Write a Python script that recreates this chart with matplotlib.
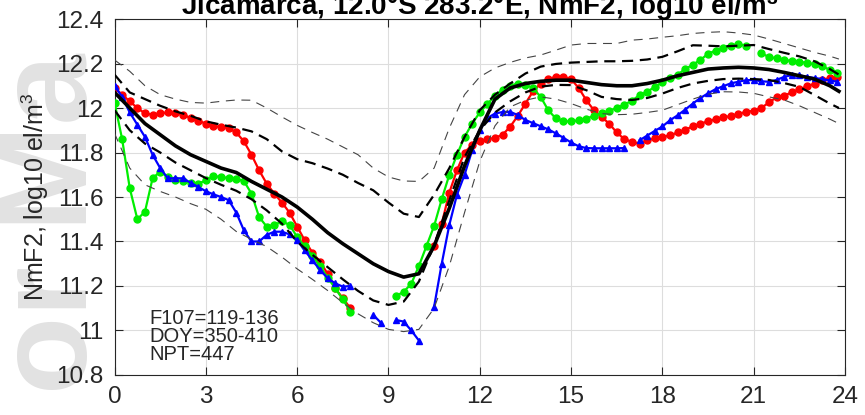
import numpy as np
import matplotlib
matplotlib.use("Agg")
import matplotlib.pyplot as plt
from matplotlib.ticker import FuncFormatter

plt.rcParams['font.family'] = ['Liberation Sans', 'DejaVu Sans']
plt.rcParams['mathtext.default'] = 'regular'

nan = np.nan

# local time grid of the observations (15 min bins)
obs_hours = np.arange(0, 24, 0.25)

red_vals = [
    12.09, 12.06, 12.03, 12.00, 11.976, 11.97, 11.976, 11.98,
    11.976, 11.97, 11.955, 11.943, 11.93, 11.918, 11.915, 11.91,
    11.89, 11.85, 11.79, 11.72, 11.66, 11.615, 11.575, 11.53,
    11.467, 11.405, 11.35, 11.31, 11.255, 11.19, 11.145, 11.10,
    nan, nan, nan, nan, nan, nan, nan, nan,
    nan, nan, 11.38, 11.48, 11.62, 11.72, 11.80, 11.835,
    11.85, 11.86, 11.866, 11.88, 11.916, 11.965, 12.02, 12.075,
    12.11, 12.13, 12.14, 12.14, 12.13, 12.09, 12.035, 11.99,
    11.96, 11.93, 11.89, 11.86, 11.848, 11.84, 11.855, 11.863,
    11.87, 11.877, 11.89, 11.903, 11.917, 11.93, 11.94, 11.95,
    11.958, 11.964, 11.974, 11.982, 11.988, 12.0, 12.025, 12.048,
    12.056, 12.07, 12.084, 12.097, 12.11, 12.125, 12.135, 12.14,
]

green_vals = [
    12.024, 11.86, 11.64, 11.50, 11.534, 11.684, 11.714, 11.69,
    11.675, 11.67, 11.665, 11.66, 11.675, 11.694, 11.69, 11.685,
    11.68, 11.672, 11.615, 11.51, 11.467, 11.475, 11.49, 11.475,
    11.42, 11.378, 11.335, 11.29, 11.238, 11.19, 11.14, 11.085,
    nan, nan, nan, nan, nan, 11.155, 11.174, 11.21,
    11.29, 11.38, 11.47, 11.59, 11.70, 11.79, 11.87, 11.93,
    11.98, 12.018, 12.055, 12.083, 12.10, 12.11, 12.105, 12.09,
    12.05, 11.99, 11.953, 11.94, 11.94, 11.945, 11.952, 11.965,
    11.976, 11.988, 12.0, 12.015, 12.033, 12.058, 12.073, 12.095,
    12.115, 12.133, 12.15, 12.175, 12.195, 12.216, 12.244, 12.258,
    12.27, 12.28, 12.287, 12.28, nan, 12.245, 12.23, 12.223,
    12.217, 12.21, 12.208, 12.203, 12.197, 12.187, 12.172, 12.156,
]

blue_vals = [
    12.10, 12.05, 11.98, 11.925, 11.87, 11.79, 11.73, 11.684,
    11.684, 11.684, 11.664, 11.645, 11.626, 11.612, 11.60, 11.586,
    11.53, 11.45, 11.40, 11.40, 11.43, 11.444, 11.444, 11.432,
    11.405, 11.36, 11.315, 11.273, 11.235, 11.212, 11.197, 11.20,
    nan, nan, 11.07, 11.035, nan, 11.047, 11.04, 11.0,
    10.955, nan, 11.107, 11.30, 11.475, 11.61, 11.70, 11.81,
    11.90, 11.955, 11.975, 11.982, 11.983, 11.968, 11.946, 11.932,
    11.918, 11.904, 11.886, 11.866, 11.845, 11.828, 11.82, 11.819,
    11.819, 11.819, 11.819, 11.82, nan, 11.855, 11.876, 11.897,
    11.917, 11.945, 11.967, 11.993, 12.02, 12.045, 12.066, 12.085,
    12.098, 12.111, 12.118, 12.125, 12.126, 12.12, 12.118, 12.126,
    12.14, 12.148, 12.147, 12.14, 12.135, 12.13, 12.124, 12.118,
]

# climatology (median, quartiles, outer bounds) on a half-hour grid
band_hours = list(np.arange(0, 24, 0.5)) + [23.8]

median = [
    12.07, 12.0, 11.93, 11.88, 11.83, 11.79, 11.76, 11.73,
    11.71, 11.67, 11.635, 11.60, 11.555, 11.50, 11.44, 11.39,
    11.345, 11.30, 11.265, 11.24, 11.255, 11.38, 11.55, 11.74,
    11.90, 12.04, 12.09, 12.11, 12.12, 12.125, 12.125, 12.115,
    12.105, 12.10, 12.10, 12.11, 12.125, 12.145, 12.16, 12.175,
    12.18, 12.183, 12.18, 12.173, 12.16, 12.145, 12.13, 12.10, 12.075,
]
q_upper = [
    12.15, 12.07, 12.04, 12.01, 11.985, 11.965, 11.94, 11.925,
    11.912, 11.895, 11.86, 11.805, 11.77, 11.752, 11.728, 11.70,
    11.663, 11.63, 11.575, 11.525, 11.51, 11.61, 11.73, 11.87,
    11.99, 12.06, 12.11, 12.155, 12.186, 12.198, 12.204, 12.207,
    12.21, 12.21, 12.212, 12.218, 12.23, 12.255, 12.282, 12.28,
    12.277, 12.28, 12.283, 12.265, 12.248, 12.232, 12.21, 12.175, 12.15,
]
q_lower = [
    11.99, 11.90, 11.84, 11.80, 11.755, 11.72, 11.685, 11.655,
    11.628, 11.59, 11.54, 11.48, 11.40, 11.34, 11.285, 11.23,
    11.178, 11.135, 11.115, 11.13, 11.22, 11.385, 11.585, 11.78,
    11.90, 11.98, 12.03, 12.07, 12.096, 12.104, 12.103, 12.08,
    12.05, 12.04, 12.036, 12.045, 12.065, 12.09, 12.11, 12.122,
    12.13, 12.132, 12.13, 12.126, 12.112, 12.095, 12.058, 12.02, 12.0,
]
outer_upper = [
    12.216, 12.165, 12.10, 12.06, 12.04, 12.025, 12.022, 12.03,
    12.036, 12.035, 12.0, 11.96, 11.922, 11.89, 11.86, 11.825,
    11.79, 11.73, 11.69, 11.672, 11.67, 11.73, 11.91, 12.06,
    12.14, 12.18, 12.205, 12.225, 12.238, 12.26, 12.283, 12.29,
    12.29, 12.29, 12.305, 12.31, 12.318, 12.325, 12.335, 12.34,
    12.343, 12.337, 12.328, 12.31, 12.29, 12.27, 12.25, 12.233, 12.22,
]
outer_lower = [
    11.886, 11.73, 11.655, 11.625, 11.60, 11.57, 11.545, 11.50,
    11.445, 11.41, 11.377, 11.33, 11.277, 11.23, 11.18, 11.125,
    11.075, 11.035, 11.005, 10.995, 11.005, 11.10, 11.29, 11.53,
    11.76, 11.92, 12.005, 12.035, 12.05, 12.04, 12.02, 11.995,
    11.975, 11.97, 11.972, 11.98, 11.99, 12.015, 12.04, 12.062,
    12.073, 12.072, 12.066, 12.05, 12.036, 12.01, 11.98, 11.95, 11.93,
]

title = 'Jicamarca, 12.0°S 283.2°E, NmF2, log10 el/m$^3$'
ylabel = 'NmF2, log10 el/m$^3$'
info_lines = ['F107=119-136', 'DOY=350-410', 'NPT=447']
xticks = [0, 3, 6, 9, 12, 15, 18, 21, 24]
yticks = [10.8, 11.0, 11.2, 11.4, 11.6, 11.8, 12.0, 12.2, 12.4]

txt = '#262626'

fig = plt.figure(figsize=(8.65, 4.15), dpi=100)
ax = fig.add_axes([0.1324, 0.0964, 0.8445, 0.8578])

# faint watermark on the left margin, behind everything
fig.text(0.062, 0.46, 'or Ma', rotation=90, fontsize=92, color='#e2e2e2',
         ha='center', va='center', fontweight='bold', zorder=-5)

ax.plot(obs_hours, red_vals, '-o', color='#ff0000', lw=1.6, ms=5, zorder=3)
ax.plot(obs_hours, green_vals, '-o', color='#00ee00', lw=1.6, ms=5, zorder=3)
ax.plot(obs_hours, blue_vals, '-^', color='#0000ff', lw=1.6, ms=5, zorder=3)

for band in (outer_upper, outer_lower):
    ax.plot(band_hours, band, color='#444444', lw=0.8, dashes=(8, 6), zorder=4)
for band in (q_upper, q_lower):
    ax.plot(band_hours, band, color='black', lw=1.6, dashes=(5, 3), zorder=4)
ax.plot(band_hours, median, color='black', lw=2.6, zorder=5)

ax.set_xlim(0, 24)
ax.set_ylim(10.8, 12.4)
ax.set_xticks(xticks)
ax.set_yticks(yticks)
ax.yaxis.set_major_formatter(FuncFormatter(lambda v, p: f'{v:g}'))
ax.grid(True, color='#dddddd', lw=0.8)
ax.set_axisbelow(True)
ax.tick_params(direction='in', top=True, right=True, labelsize=17.5,
               colors=txt, length=6, width=0.8, pad=8)
for s in ax.spines.values():
    s.set_color(txt)
    s.set_linewidth(0.8)

ax.set_ylabel(ylabel, fontsize=18, color=txt, labelpad=4)
ax.set_title(title, fontsize=20, fontweight='bold', color='black', pad=3)

ax.text(0.048, 0.03, '\n'.join(info_lines), transform=ax.transAxes,
        fontsize=14.5, color=txt, va='bottom', ha='left', linespacing=0.95)

fig.savefig('out.png', dpi=100)
